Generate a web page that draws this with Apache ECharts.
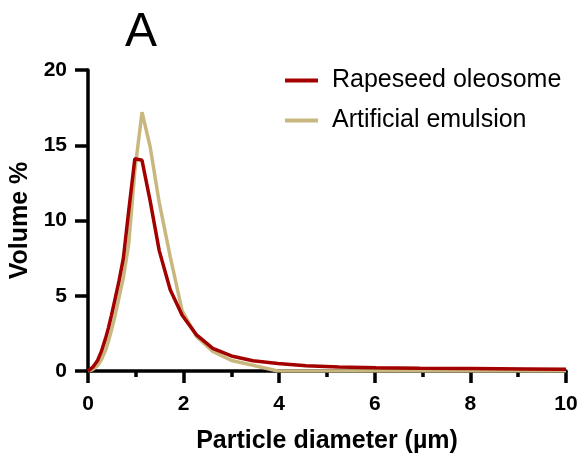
<!DOCTYPE html>
<html>
<head>
<meta charset="utf-8">
<script src="https://cdn.jsdelivr.net/npm/echarts@6/dist/echarts.min.js"></script>
<style>
  html, body { margin: 0; padding: 0; background: #fff; }
  #chart { width: 587px; height: 457px; }
</style>
</head>
<body>
<div id="chart"></div>
<script>
// particle diameter (µm) sample points
var diameters = [0, 0.1, 0.2, 0.28, 0.37, 0.43, 0.49, 0.56, 0.65, 0.74, 0.85, 0.98, 1.13, 1.30, 1.49, 1.72, 1.97, 2.27, 2.61, 3.0, 3.45, 3.97, 4.56, 5.25, 6.03, 6.94, 7.98, 9.18, 10.0];
var rapeseed = [0, 0.25, 0.7, 1.3, 2.2, 2.9, 3.7, 4.7, 6.0, 7.5, 10.6, 14.1, 14.0, 11.3, 8.0, 5.4, 3.7, 2.4, 1.5, 1.0, 0.68, 0.5, 0.35, 0.27, 0.22, 0.19, 0.16, 0.13, 0.11];
var artificial = [0, 0.1, 0.35, 0.75, 1.4, 2.0, 2.7, 3.6, 4.9, 6.2, 8.4, 13.3, 17.2, 14.9, 11.2, 7.6, 4.0, 2.3, 1.3, 0.7, 0.38, 0, 0, 0, 0, 0, 0, 0, 0];
var seriesNames = ['Rapeseed oleosome', 'Artificial emulsion'];
var xTicks = [0, 10, 2];   // min, max, interval
var yTicks = [0, 20, 5];

function pairs(ys) {
  return diameters.map(function (d, i) { return [d, ys[i]]; });
}

var chart = echarts.init(document.getElementById('chart'));
var font = 'Liberation Sans, Arial, sans-serif';
var red = '#a30000';
var tan = '#c8b880';

var option = {
  animation: false,
  title: {
    text: 'A',
    left: 120,
    top: 4,
    textStyle: { fontFamily: font, fontSize: 48, fontWeight: 'normal', color: '#000' }
  },
  legend: {
    orient: 'vertical',
    left: 280,
    top: 63,
    itemWidth: 33,
    itemHeight: 4,
    itemGap: 15,
    icon: 'rect',
    data: seriesNames,
    textStyle: { fontFamily: font, fontSize: 25, color: '#000', padding: [0, 0, 0, 9] }
  },
  grid: { left: 88, right: 21, top: 70, bottom: 86, containLabel: false, outerBoundsMode: 'none' },
  xAxis: {
    type: 'value',
    min: xTicks[0], max: xTicks[1], interval: xTicks[2],
    name: 'Particle diameter (µm)',
    nameLocation: 'middle',
    nameGap: 58,
    nameTextStyle: { fontFamily: font, fontSize: 25, fontWeight: 'bold', color: '#000' },
    axisLine: { lineStyle: { color: '#000', width: 3.5 } },
    axisTick: { length: 12, lineStyle: { color: '#000', width: 3.5 } },
    minorTick: { show: true, splitNumber: 2, length: 6, lineStyle: { color: '#000', width: 3.5 } },
    axisLabel: { fontFamily: font, fontSize: 21, fontWeight: 'bold', color: '#000', margin: 23 },
    splitLine: { show: false },
    minorSplitLine: { show: false }
  },
  yAxis: {
    type: 'value',
    min: yTicks[0], max: yTicks[1], interval: yTicks[2],
    name: 'Volume %',
    nameLocation: 'middle',
    nameGap: 54,
    nameTextStyle: { fontFamily: font, fontSize: 25, fontWeight: 'bold', color: '#000' },
    axisLine: { show: true, lineStyle: { color: '#000', width: 3.5 } },
    axisTick: { show: true, length: 13, lineStyle: { color: '#000', width: 3.5 } },
    axisLabel: { fontFamily: font, fontSize: 21, fontWeight: 'bold', color: '#000', margin: 21 },
    splitLine: { show: false }
  },
  series: [
    {
      name: seriesNames[1],
      type: 'line',
      data: pairs(artificial),
      showSymbol: false,
      color: tan,
      lineStyle: { width: 3.5, color: tan }
    },
    {
      name: seriesNames[0],
      type: 'line',
      data: pairs(rapeseed),
      showSymbol: false,
      color: red,
      lineStyle: { width: 3.5, color: red }
    }
  ]
};

chart.setOption(option);
</script>
</body>
</html>
